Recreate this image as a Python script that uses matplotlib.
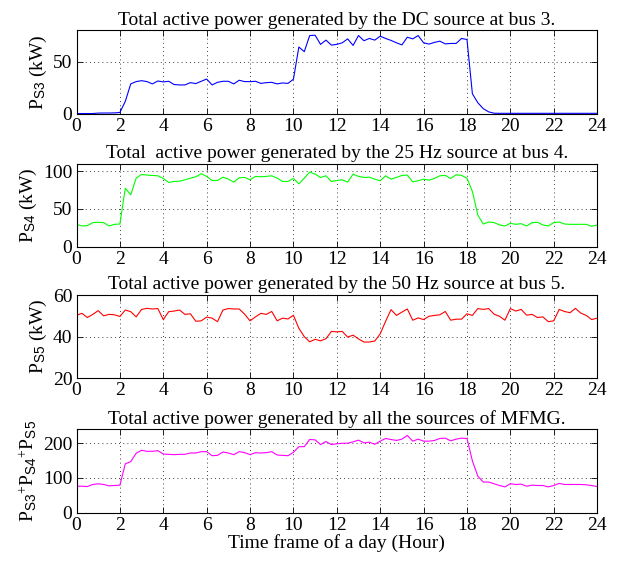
import numpy as np
import matplotlib
matplotlib.use("Agg")
import matplotlib.pyplot as plt

plt.rcParams['font.family'] = ['Liberation Serif', 'DejaVu Serif']
plt.rcParams['mathtext.fontset'] = 'custom'
plt.rcParams['mathtext.rm'] = 'Liberation Serif'
plt.rcParams['mathtext.it'] = 'Liberation Serif:italic'
plt.rcParams['mathtext.sf'] = 'Liberation Sans'

# time axis: samples every 15 minutes over the day
hours = np.arange(0, 24.01, 0.25)

# DC source at bus 3 (kW)
p_s3 = [0, 0, 0, 0, 0.4, 0.5, 0.5, 0.6, 1,
        11.7, 28.5, 30.7, 31.6, 30.7, 28.5, 31.3, 30.4,
        31, 27.9, 27.5, 27.5, 29.7, 28.8, 31, 33.2,
        27.5, 30, 31, 31, 28.5, 32, 30.7, 30.7,
        31, 29, 29.7, 30, 28.5, 29.4, 29, 33,
        64, 59.5, 75, 75.3, 66.5, 70.6, 65.8, 66.5,
        68, 71.8, 65.5, 75, 70, 72.2, 70.6, 74.4,
        72.2, 70.3, 68, 66, 73.4, 71.8, 75, 68,
        66.8, 68.4, 69.6, 67, 67.4, 67.4, 72.2, 71.2,
        19, 10.4, 4.7, 1.6, 0.3, 0.2, 0.2, 0.2,
        0.2, 0.2, 0.2, 0.2, 0.2, 0.2, 0.2, 0.2,
        0.2, 0.2, 0.2, 0.2, 0.2, 0.2, 0.2, 0.2]

# 25 Hz source at bus 4 (kW)
p_s4 = [29.6, 27.4, 27.9, 31.9, 32.3, 31.9, 27.4, 29.6, 30,
        77.4, 68.6, 90.7, 95.6, 94.7, 94.3, 93.8, 90.3,
        85, 86.3, 86.7, 88.5, 90.7, 92.5, 96.5, 93,
        87.6, 87.6, 92, 89.4, 85.4, 91.2, 91.6, 88.5,
        93, 92.5, 93, 93.8, 90.7, 86.3, 86.3, 90.3,
        83.2, 90.7, 98.7, 96, 91.6, 93.8, 86.3, 87.6,
        88.5, 85.4, 96, 93, 91.6, 92, 89.4, 87.2,
        93.8, 89.4, 91.6, 94.3, 94.7, 85.8, 87.2, 89.4,
        88, 90.3, 93.8, 94.3, 90.3, 95.1, 94.3, 90.7,
        73, 42, 30, 32.7, 31.9, 28.8, 27.4, 31,
        29.6, 30.5, 27.4, 31.9, 32.3, 28.8, 27.4, 31.9,
        32.7, 30, 29.6, 29.6, 29.6, 29.6, 27, 28.8]

# 50 Hz source at bus 5 (kW)
p_s5 = [50.3, 51.2, 49.2, 50.7, 52.5, 50, 50.7, 50.5, 49.7,
        52.8, 52, 49.5, 53.1, 53.6, 53.3, 53.5, 48.2,
        52, 52.3, 52.8, 50.7, 51, 47.4, 47.6, 49.4,
        48.9, 47.2, 52.8, 53.5, 53.3, 53.3, 50.8, 47.6,
        49.5, 51.2, 50.7, 52.1, 47.6, 48.9, 48.5, 50.3,
        44, 40, 37.5, 38.7, 38, 39, 42.5, 42.3,
        42.5, 39.8, 40.7, 38.9, 37.4, 37.4, 37.9, 41.3,
        47.4, 53, 50.2, 51.8, 53.3, 47.9, 49, 48.2,
        49.8, 50.2, 50.5, 52.1, 47.9, 48.4, 48.4, 51,
        50.2, 53.5, 53.1, 53.5, 50.8, 49.8, 47.9, 53.5,
        52.3, 53.1, 50.3, 50.7, 49.2, 49.5, 47.2, 47.6,
        53.1, 52.1, 51.5, 53.6, 51.3, 50.2, 48.2, 48.9]

# all sources of the MFMG (kW)
p_total = [76, 76, 75, 81, 83, 81, 77, 78, 79,
           140.5, 147, 171, 179.6, 176.7, 176.7, 178.6, 168.8,
           168, 167, 168, 168, 171.8, 171.8, 175.7, 175.7,
           164, 165, 174.7, 171.8, 167, 175.7, 172.8, 167,
           172.8, 171.8, 172.8, 175.7, 166, 165, 164, 173.7,
           190, 190, 210.8, 209.8, 196, 205, 196, 198.5,
           200, 200, 204, 209, 201, 203, 197, 206,
           213.7, 210.8, 208, 211.8, 222.5, 206, 211.8, 206,
           206, 208, 213.7, 214.7, 207, 211.8, 214.7, 213.7,
           149, 105, 88, 88, 83, 78, 74, 83,
           81, 82, 76, 79, 78, 78, 74, 78,
           84, 81, 81, 81, 81, 80, 78, 75]

titles = ["Total active power generated by the DC source at bus 3.",
          "Total  active power generated by the 25 Hz source at bus 4.",
          "Total active power generated by the 50 Hz source at bus 5.",
          "Total active power generated by all the sources of MFMG."]
ylabels = [r"P$_{\mathsf{S3}}$ (kW)",
           r"P$_{\mathsf{S4}}$ (kW)",
           r"P$_{\mathsf{S5}}$ (kW)",
           r"P$_{\mathsf{S3}}{}^{+}$P$_{\mathsf{S4}}{}^{+}$P$_{\mathsf{S5}}$"]
series = [p_s3, p_s4, p_s5, p_total]
colors = ["#0000ff", "#00ff00", "#ff0000", "#ff00ff"]
ylims = [(0, 80), (0, 110), (20, 60), (0, 240)]
yticks = [[0, 50], [0, 50, 100], [20, 40, 60], [0, 100, 200]]
bottoms = [0.798, 0.561, 0.327, 0.088]

fig = plt.figure(figsize=(6.22, 5.62), dpi=100)
fs = 14

for i in range(4):
    ax = fig.add_axes([0.123, bottoms[i], 0.837, 0.148])
    ax.plot(hours, series[i], color=colors[i], linewidth=0.8)
    ax.set_xlim(0, 24)
    ax.set_ylim(*ylims[i])
    ax.set_xticks(np.arange(0, 25, 2))
    ax.set_yticks(yticks[i])
    ax.grid(True, color="black", linestyle=(0, (1, 4)), linewidth=0.6)
    ax.tick_params(direction="in", top=True, right=True, labelsize=fs,
                   length=4, width=0.6, pad=3)
    for sp in ax.spines.values():
        sp.set_linewidth(0.8)
    ax.set_title(titles[i], fontsize=fs, pad=4)
    ax.set_ylabel(ylabels[i], fontsize=fs, labelpad=3)
    if i == 3:
        ax.set_xlabel("Time frame of a day (Hour)", fontsize=fs, labelpad=0)

fig.savefig("out.png", dpi=100)
